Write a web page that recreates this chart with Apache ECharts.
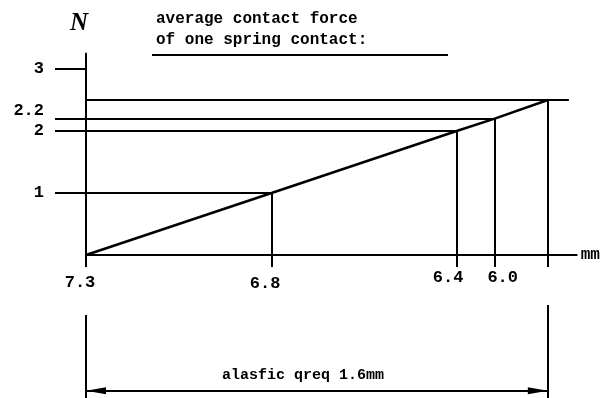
<!DOCTYPE html>
<html><head><meta charset="utf-8">
<script src="https://cdn.jsdelivr.net/npm/echarts@6/dist/echarts.min.js"></script>
<style>html,body{margin:0;padding:0;background:#fff}#c{width:613px;height:398px}</style>
</head><body><div id="c"></div>
<script>
// ---- data ----
const travelMm = [0, 0.643, 1.284, 1.416, 1.6];     // travel from 7.3 mm position
const forceN = [0, 1, 2, 2.2, 2.5];                 // contact force, N
const xTickLabels = ['7.3', '6.8', '6.4', '6.0'];
const yTickValues = [1, 2, 2.2, 3];
const yTickLabels = ['1', '2', '2.2', '3'];
const refLineEndMm = 1.673;
const totalTravelMm = 1.6;
const titleLines = ['average contact force', 'of one spring contact:'];
const yAxisTitle = 'N';
const xAxisUnit = 'mm';
const dimensionText = 'alasfic qreq 1.6mm';

// ---- styling ----
const FONT = '"Liberation Mono", monospace';
const INK = '#000';
const txt = (size) => ({ fontFamily: FONT, fontSize: size, color: INK, fontWeight: 'bold' });

const pts = travelMm.map((x, i) => [x, forceN[i]]);
const last = pts.length - 1;
const guideLines = [];
for (let i = 1; i < pts.length; i++) guideLines.push([{ coord: [pts[i][0], pts[i][1]] }, { coord: [pts[i][0], 0] }]);
for (let i = 1; i < last; i++) guideLines.push([{ coord: [0, pts[i][1]] }, { coord: [pts[i][0], pts[i][1]] }]);
guideLines.push([{ coord: [0, forceN[last]] }, { coord: [refLineEndMm, forceN[last]] }]);

function nearestIdx(arr, v) {
  let b = 0; for (let i = 1; i < arr.length; i++) if (Math.abs(arr[i] - v) < Math.abs(arr[b] - v)) b = i; return b;
}

const xRich = {
  x0: Object.assign(txt(17), { padding: [5, 12, 0, 0] }),
  x1: Object.assign(txt(17), { padding: [6, 13, 0, 0] }),
  x2: Object.assign(txt(17), { padding: [0, 17, 0, 0] }),
  x3: Object.assign(txt(17), { padding: [0, 0, 0, 16] })
};
const yRich = {
  n: Object.assign(txt(17), {}),
  up: Object.assign(txt(17), { padding: [0, 0, 16, 0] })
};

const chart = echarts.init(document.getElementById('c'), null, { renderer: 'canvas' });
chart.setOption({
  animation: false,
  backgroundColor: '#fff',
  title: [
    { text: yAxisTitle, left: 70, top: 11, padding: 0,
      textStyle: { fontFamily: '"Liberation Serif", serif', fontStyle: 'italic', fontWeight: 'bold', fontSize: 25, color: INK } },
    { text: titleLines.join('\n'), left: 156, top: 8, padding: 0,
      textStyle: Object.assign(txt(16), { lineHeight: 21.5 }) }
  ],
  graphic: [
    { type: 'line', shape: { x1: 152, y1: 55, x2: 448, y2: 55 }, style: { stroke: INK, lineWidth: 2 } }
  ],
  grid: [
    { left: 86, right: 36.3, top: 53.5, bottom: 143, containLabel: false, outerBoundsMode: 'none' },
    { left: 86, right: 36.3, top: 300, bottom: 0, containLabel: false, outerBoundsMode: 'none' }
  ],
  xAxis: [
    { gridIndex: 0, type: 'value', min: 0, max: 1.7,
      axisLine: { show: true, lineStyle: { color: INK, width: 2 } },
      axisTick: { show: true, customValues: travelMm, length: 12, lineStyle: { color: INK, width: 2 } },
      axisLabel: { show: true, customValues: travelMm.slice(0, xTickLabels.length), margin: 14,
        formatter: v => { const i = nearestIdx(travelMm, v); return '{x' + i + '|' + xTickLabels[i] + '}'; },
        rich: xRich },
      splitLine: { show: false },
      name: xAxisUnit, nameLocation: 'end', nameGap: 4,
      nameTextStyle: Object.assign(txt(16), { align: 'left', verticalAlign: 'middle' }) },
    { gridIndex: 1, type: 'value', min: 0, max: 1.7, show: false }
  ],
  yAxis: [
    { gridIndex: 0, type: 'value', min: 0, max: 3.25,
      axisLine: { show: true, lineStyle: { color: INK, width: 2 } },
      axisTick: { show: true, customValues: yTickValues, length: 31, lineStyle: { color: INK, width: 2 } },
      axisLabel: { show: true, customValues: yTickValues, margin: 42,
        formatter: v => { const i = nearestIdx(yTickValues, v); return (yTickLabels[i] === '2.2' ? '{up|' : '{n|') + yTickLabels[i] + '}'; },
        rich: yRich },
      splitLine: { show: false } },
    { gridIndex: 1, type: 'value', min: 0, max: 1, show: false }
  ],
  series: [
    { type: 'line', xAxisIndex: 0, yAxisIndex: 0, data: pts, symbol: 'none', silent: true,
      lineStyle: { color: INK, width: 2.5 },
      markLine: { silent: true, animation: false, symbol: ['none', 'none'], label: { show: false },
        lineStyle: { color: INK, width: 2, type: 'solid' }, emphasis: { disabled: true }, data: guideLines } },
    { type: 'line', xAxisIndex: 1, yAxisIndex: 1, data: [[0, 0], [totalTravelMm, 0]], symbol: 'none', silent: true,
      lineStyle: { opacity: 0 },
      markLine: { silent: true, animation: false, symbol: ['none', 'none'], label: { show: false },
        lineStyle: { color: INK, width: 2, type: 'solid' }, emphasis: { disabled: true },
        data: [
          [{ coord: [0, 0.847] }, { coord: [0, 0] }],
          [{ coord: [totalTravelMm, 0.949] }, { coord: [totalTravelMm, 0] }]
        ] } },
    { type: 'line', xAxisIndex: 1, yAxisIndex: 1, data: [[0, 0], [totalTravelMm, 0]], symbol: 'none', silent: true,
      lineStyle: { opacity: 0 },
      markLine: { silent: true, animation: false, symbol: ['triangle', 'triangle'], symbolSize: [7, 20],
        symbolOffset: [[0, 10], [0, 10]],
        label: { show: true, position: 'middle', distance: 8, formatter: dimensionText, padding: [0, 28, 0, 0], ...txt(15) },
        lineStyle: { color: INK, width: 2, type: 'solid' }, itemStyle: { color: INK }, emphasis: { disabled: true },
        data: [[{ coord: [0, 0.0745] }, { coord: [totalTravelMm, 0.0745] }]] } }
  ]
});
</script>
</body></html>
